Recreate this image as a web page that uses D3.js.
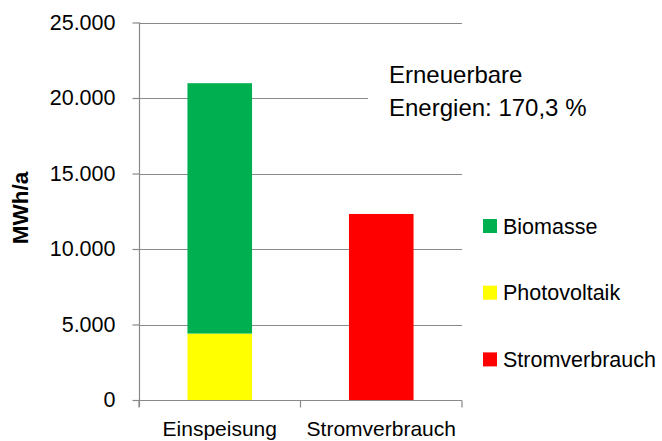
<!DOCTYPE html>
<html>
<head>
<meta charset="utf-8">
<script src="https://cdn.jsdelivr.net/npm/d3@7"></script>
<style>
  body { margin: 0; background: #fff; }
  svg { display: block; font-family: "Liberation Sans", Arial, sans-serif; }
</style>
</head>
<body>
<svg width="662" height="441"></svg>
<script>
// categories and series
var categories = ["Einspeisung", "Stromverbrauch"];
var photovoltaik = [4400, 0];
var biomasse = [16580, 0];
var stromverbrauch = [0, 12320];
var yTicks = [0, 5000, 10000, 15000, 20000, 25000];
var seriesNames = ["Biomasse", "Photovoltaik", "Stromverbrauch"];
var seriesColors = ["#00b050", "#ffff00", "#ff0000"];
var noteLines = ["Erneuerbare", "Energien: 170,3 %"];

var svg = d3.select("svg");
var gridColor = "#898989";

var xScale = d3.scaleBand().domain(categories).range([139, 462]).paddingInner(0.6).paddingOuter(0.3);
var yScale = d3.scaleLinear().domain([0, 25000]).range([400, 22.5]);

var fmt = function(d) { return d3.format(",")(d).replace(/,/g, "."); };

// gridlines
svg.append("g")
    .selectAll("line")
    .data(yTicks.slice(1))
    .enter()
    .append("line")
    .attr("x1", 139).attr("x2", 462)
    .attr("y1", function(d) { return Math.round(yScale(d)) + 0.5; })
    .attr("y2", function(d) { return Math.round(yScale(d)) + 0.5; })
    .attr("stroke", gridColor)
    .attr("stroke-width", 1.2);

// stacked data
var data = categories.map(function(c, i) {
    return {cat: c, Photovoltaik: photovoltaik[i], Biomasse: biomasse[i], Stromverbrauch: stromverbrauch[i]};
});
var stack = d3.stack().keys(["Photovoltaik", "Biomasse", "Stromverbrauch"]);
var colorOf = d3.scaleOrdinal().domain(seriesNames).range(seriesColors);

svg.append("g")
    .selectAll("g")
    .data(stack(data))
    .enter()
    .append("g")
    .attr("fill", function(s) { return colorOf(s.key); })
    .selectAll("rect")
    .data(function(s) { return s.filter(function(d) { return d[1] > d[0]; }); })
    .enter()
    .append("rect")
    .attr("x", function(d) { return xScale(d.data.cat); })
    .attr("width", xScale.bandwidth())
    .attr("y", function(d) { return yScale(d[1]); })
    .attr("height", function(d) { return yScale(d[0]) - yScale(d[1]); });

// y axis
var yAxis = svg.append("g")
    .attr("transform", "translate(139.5,0)")
    .call(d3.axisLeft(yScale).tickValues(yTicks).tickFormat(fmt).tickSize(7).tickPadding(17));
yAxis.select(".domain").remove();
yAxis.append("line")
    .attr("x1", 0).attr("x2", 0)
    .attr("y1", yScale(25000)).attr("y2", 407)
    .attr("stroke", gridColor).attr("stroke-width", 1.2);
yAxis.selectAll(".tick line").attr("stroke", gridColor).attr("stroke-width", 1.2);
yAxis.selectAll(".tick text")
    .attr("font-size", "21.5px")
    .attr("font-family", "Liberation Sans, Arial, sans-serif")
    .attr("fill", "#000");

// x axis
var xAxis = svg.append("g")
    .attr("transform", "translate(0,400.5)");
xAxis.append("line")
    .attr("x1", 139).attr("x2", 462)
    .attr("stroke", gridColor).attr("stroke-width", 1.2);
xAxis.selectAll(".sep")
    .data([139, 300.5, 462])
    .enter()
    .append("line")
    .attr("x1", function(d) { return d; }).attr("x2", function(d) { return d; })
    .attr("y1", 0).attr("y2", 7)
    .attr("stroke", gridColor).attr("stroke-width", 1.2);
xAxis.selectAll(".lbl")
    .data(categories)
    .enter()
    .append("text")
    .attr("x", function(d) { return xScale(d) + xScale.bandwidth() / 2; })
    .attr("y", 35)
    .attr("text-anchor", "middle")
    .attr("font-size", "21px")
    .text(function(d) { return d; });

// y title
svg.append("text")
    .attr("transform", "translate(28,208) rotate(-90)")
    .attr("text-anchor", "middle")
    .attr("font-size", "22.5px")
    .attr("font-weight", "bold")
    .text("MWh/a");

// note box
svg.append("rect")
    .attr("x", 368).attr("y", 52).attr("width", 240).attr("height", 80)
    .attr("fill", "#fff");
svg.append("g")
    .selectAll("text")
    .data(noteLines)
    .enter()
    .append("text")
    .attr("x", 389)
    .attr("y", function(d, i) { return 82.5 + i * 33; })
    .attr("font-size", "24px")
    .text(function(d) { return d; });

// legend
var legend = svg.append("g")
    .selectAll("g")
    .data(seriesNames)
    .enter()
    .append("g")
    .attr("transform", function(d, i) { return "translate(483," + (219 + i * 66.7) + ")"; });
legend.append("rect")
    .attr("width", 14).attr("height", 14)
    .attr("fill", function(d) { return colorOf(d); });
legend.append("text")
    .attr("x", 20).attr("y", 14.5)
    .attr("font-size", "21.5px")
    .text(function(d) { return d; });
</script>
</body>
</html>
